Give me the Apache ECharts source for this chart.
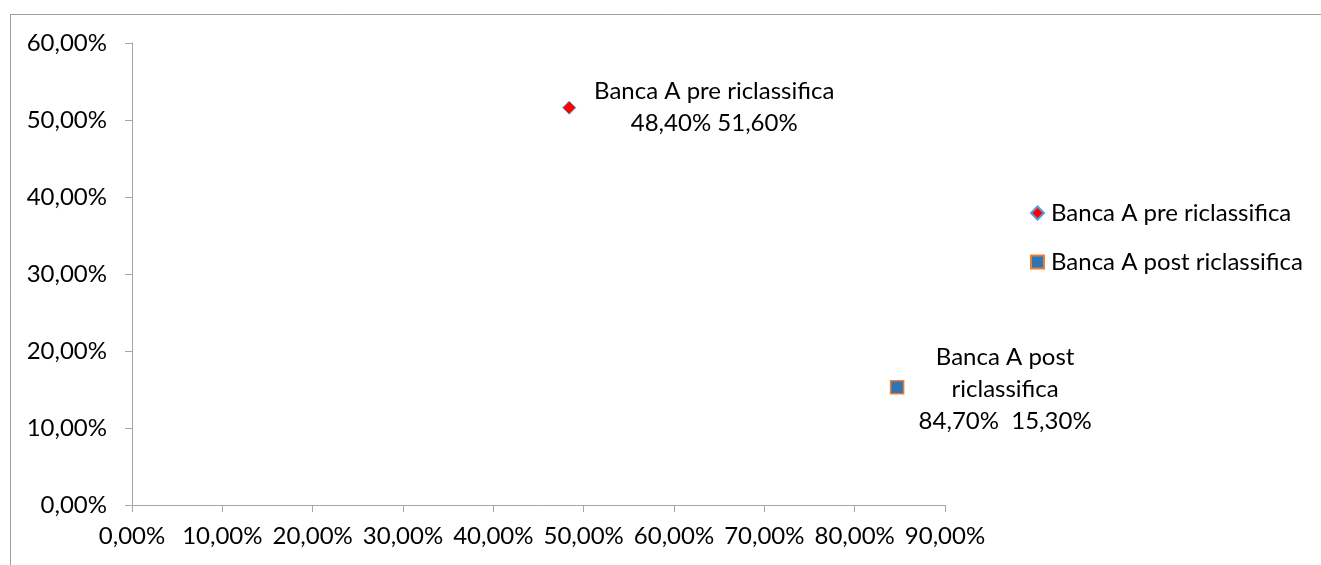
<!DOCTYPE html>
<html>
<head>
<meta charset="utf-8">
<script src="https://cdn.jsdelivr.net/npm/echarts@6/dist/echarts.min.js"></script>
<style>
  html, body { margin: 0; padding: 0; background: #fff; }
  #chart { width: 1321px; height: 565px; }
</style>
</head>
<body>
<div id="chart"></div>
<script>
// Series names, the wrapped text shown next to each point, and the values (in %)
const seriesNames = ['Banca A pre riclassifica', 'Banca A post riclassifica'];
const pointLabelNames = ['Banca A pre riclassifica', 'Banca A post\nriclassifica'];
const pointValueSeparators = [' ', '  '];
const xValues = [48.4, 84.7];
const yValues = [51.6, 15.3];

// Axis ranges (%)
const xMax = 90;
const yMax = 60;
const tickStep = 10;

const FONT = 'Lato, "Liberation Sans", sans-serif';
const FONT_SIZE = 24;
const fmt = v => v.toFixed(2).replace('.', ',') + '%';

const seriesStyles = [
  { symbol: 'diamond', size: 13, color: '#ff0000', border: '#5b9bd5', bw: 1, offset: [145, 0] },
  { symbol: 'rect', size: 13, color: '#2e75b6', border: '#ed7d31', bw: 1.5, offset: [108, 2] }
];

const series = seriesNames.map((name, i) => ({
  name: name,
  type: 'scatter',
  symbol: seriesStyles[i].symbol,
  symbolSize: seriesStyles[i].size,
  itemStyle: {
    color: seriesStyles[i].color,
    borderColor: seriesStyles[i].border,
    borderWidth: seriesStyles[i].bw,
    opacity: 1
  },
  label: {
    show: true,
    position: 'inside',
    align: 'center',
    verticalAlign: 'middle',
    offset: seriesStyles[i].offset,
    fontFamily: FONT,
    fontSize: FONT_SIZE,
    lineHeight: 32,
    color: '#000',
    formatter: () => pointLabelNames[i] + '\n' + fmt(xValues[i]) + pointValueSeparators[i] + fmt(yValues[i])
  },
  emphasis: { disabled: true },
  data: [[xValues[i], yValues[i]]]
}));

const chart = echarts.init(document.getElementById('chart'), null, { renderer: 'canvas' });
chart.setOption({
  animation: false,
  backgroundColor: '#fff',
  grid: { left: 132, top: 43, right: 376, bottom: 60, containLabel: false },
  xAxis: {
    type: 'value',
    min: 0, max: xMax, interval: tickStep,
    splitLine: { show: false },
    axisLine: { show: true, lineStyle: { color: '#a6a6a6', width: 1 } },
    axisTick: { show: true, inside: false, length: 7, lineStyle: { color: '#a6a6a6' } },
    axisLabel: { margin: 19, fontFamily: FONT, fontSize: FONT_SIZE, color: '#000', formatter: v => fmt(v) }
  },
  yAxis: {
    type: 'value',
    min: 0, max: yMax, interval: tickStep,
    splitLine: { show: false },
    axisLine: { show: true, lineStyle: { color: '#a6a6a6', width: 1 } },
    axisTick: { show: true, inside: false, length: 7, lineStyle: { color: '#a6a6a6' } },
    axisLabel: { margin: 25, fontFamily: FONT, fontSize: FONT_SIZE, color: '#000', formatter: v => fmt(v) }
  },
  legend: {
    orient: 'vertical',
    left: 1025,
    top: 193,
    itemWidth: 13,
    itemHeight: 13,
    itemGap: 19,
    selectedMode: false,
    textStyle: { fontFamily: FONT, fontSize: FONT_SIZE, lineHeight: 30, color: '#000', padding: [0, 0, 0, 2] },
    data: seriesNames.map((n, i) => ({ name: n, icon: seriesStyles[i].symbol === 'rect' ? 'rect' : 'diamond' }))
  },
  graphic: [
    { type: 'line', silent: true, shape: { x1: 10, y1: 14.5, x2: 1321, y2: 14.5 }, style: { stroke: '#9e9e9e', lineWidth: 1 } },
    { type: 'line', silent: true, shape: { x1: 10.5, y1: 14, x2: 10.5, y2: 565 }, style: { stroke: '#9e9e9e', lineWidth: 1 } }
  ],
  series: series
});
</script>
</body>
</html>
